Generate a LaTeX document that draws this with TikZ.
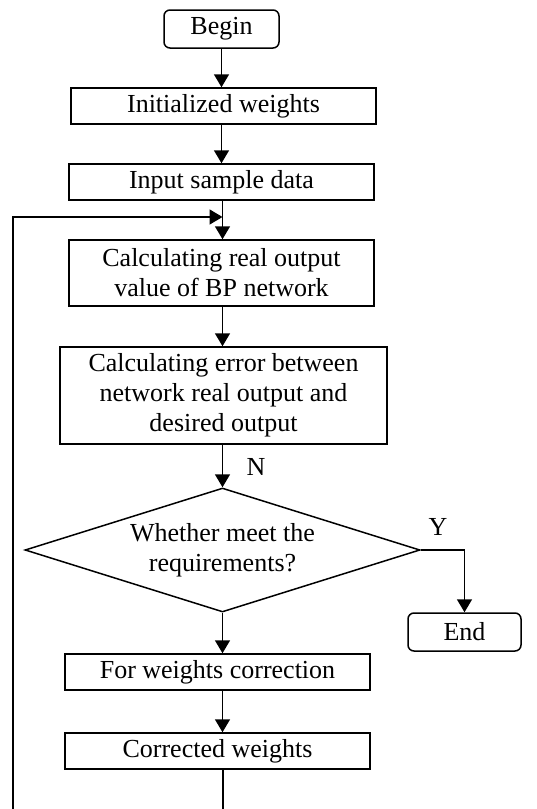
\documentclass[tikz,border=0pt]{standalone}
\usepackage{fontspec}
\setmainfont{Liberation Serif}
\usetikzlibrary{shapes.geometric,arrows.meta}
\tikzset{
  boxnode/.style={draw, line width=1.5pt, inner sep=0pt, align=center,
    font=\fontsize{26}{30}\selectfont},
  termnode/.style={boxnode, rounded corners=6pt},
  lbl/.style={font=\fontsize{26}{30}\selectfont, inner sep=0pt},
  conn/.style={line width=1.6pt},
  arr/.style={conn, -{Triangle[length=13pt,width=15pt]}}
}
\begin{document}
\begin{tikzpicture}[x=1pt,y=-1pt]
\useasboundingbox (0,0) rectangle (536,809);
\node[termnode, minimum width=115pt, minimum height=38pt] (begin) at (221.5,29) {Begin};
\node[boxnode, minimum width=305pt, minimum height=36pt] (init) at (223.5,106) {Initialized weights};
\node[boxnode, minimum width=305pt, minimum height=36pt] (input) at (221.5,182) {Input sample data};
\node[boxnode, minimum width=305pt, minimum height=66pt] (calc1) at (221.5,273) {Calculating real output\\value of BP network};
\node[boxnode, minimum width=327pt, minimum height=97pt] (calc2) at (223.5,395.5) {Calculating error between\\network real output and\\desired output};
\node[boxnode, shape=diamond, aspect=3.19, minimum width=395pt, minimum height=124pt] (dia) at (222.5,550) {Whether meet the\\requirements?};
\node[termnode, minimum width=113pt, minimum height=38pt] (end) at (464.5,632) {End};
\node[boxnode, minimum width=305pt, minimum height=36pt] (fwc) at (217.5,672) {For weights correction};
\node[boxnode, minimum width=305pt, minimum height=36pt] (cw) at (217.5,751) {Corrected weights};
\node[lbl] (nlab) at (256,467) {N};
\node[lbl] (ylab) at (438,527) {Y};
\coordinate (merge) at (222.5,217);
\coordinate (tl) at (13,217);
\coordinate (bl) at (13,809);
\coordinate (bc) at (223,809);

\draw[arr] (begin.south) -- (begin.south |- init.north);
\draw[arr] (init.south -| begin.south) -- (input.north -| begin.south);
\draw[arr] (input.south -| merge) -- (calc1.north -| merge);
\draw[arr] (calc1.south -| merge) -- (calc2.north -| merge);
\draw[arr] (calc2.south -| dia.north) -- (dia.north);
\draw[arr] (dia.east) -- (dia.east -| end.north) -- (end.north);
\draw[arr] (dia.south) -- (dia.south |- fwc.north);
\draw[arr] (fwc.south -| dia.south) -- (cw.north -| dia.south);
\draw[conn] (cw.south -| bc) -- (bc);
\draw[arr] (bl) -- (tl) -- (merge);
\end{tikzpicture}
\end{document}
